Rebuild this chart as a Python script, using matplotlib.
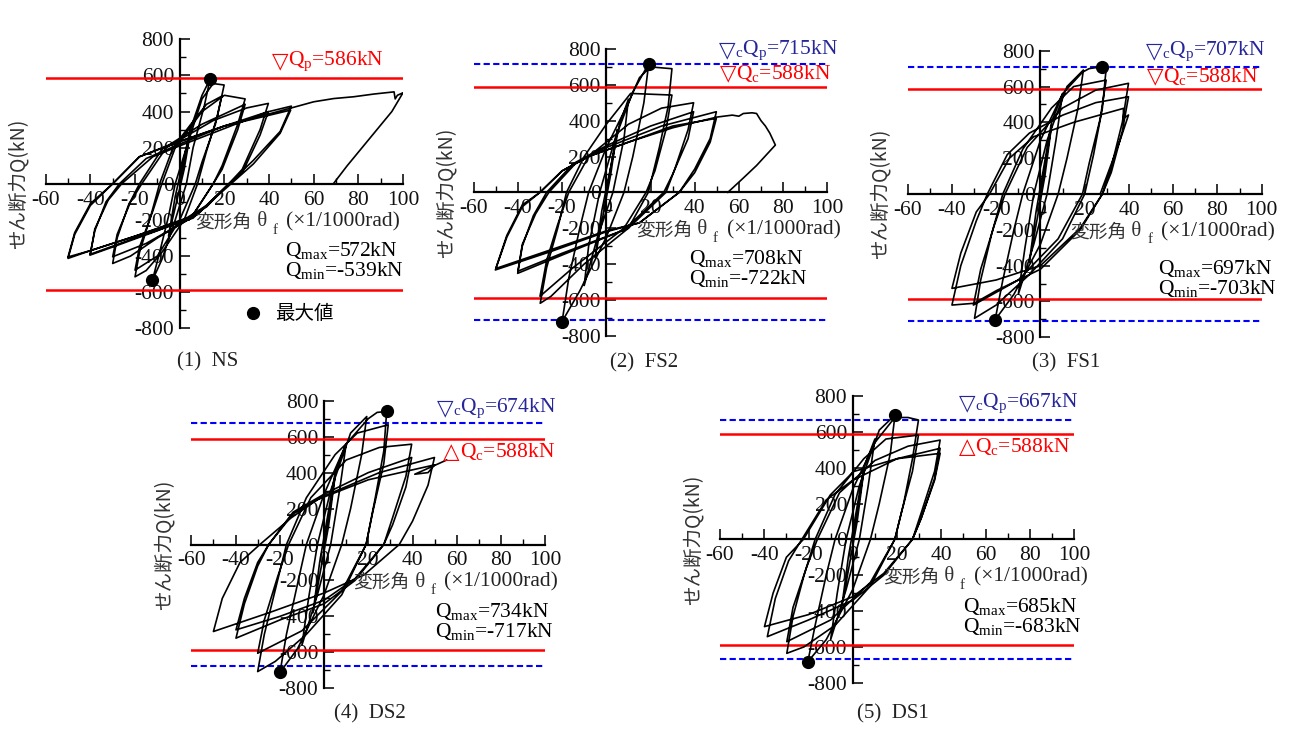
import numpy as np
import matplotlib.pyplot as plt
from matplotlib.ticker import MultipleLocator

plt.rcParams['font.family'] = ['Liberation Serif', 'DejaVu Sans']
plt.rcParams['mathtext.fontset'] = 'custom'
plt.rcParams['mathtext.rm'] = 'Liberation Serif'
plt.rcParams['mathtext.it'] = 'Liberation Serif:italic'
plt.rcParams['mathtext.bf'] = 'Liberation Serif:bold'
plt.rcParams['axes.unicode_minus'] = False

CJK = ['Noto Sans CJK JP', 'DejaVu Sans']
RED = '#ff0000'
BLUE = '#0000ff'
NAVY = '#262699'

# hysteresis paths: (theta_f [x1/1000 rad], Q [kN])
ns_path = [
    (0, 0), (5, 300), (2, 80), (-5, -290), (-2, -70), (5, 310),
    (10, 490), (13.6, 580), (11, 430), (6, 200), (3, 0), (-2, -200), (-8, -420), (-12.2, -534),
    (-9, -380), (-5, -180), (-2, 0), (3, 200), (10, 470), (15, 555), (19.9, 547),
    (17, 380), (12, 180), (8, 0), (2, -200), (-8, -380), (-15, -480), (-20, -515),
    (-18, -380), (-13, -180), (-9, 0), (-3, 200), (5, 330), (12, 440), (18.8, 485),
    (16, 330), (10, 120), (7, 0), (0, -200), (-10, -400), (-20, -478),
    (-18, -350), (-12, -150), (-8, 0), (-2, 200), (10, 400), (20, 490), (29.3, 470),
    (26, 330), (19, 100), (15, 0), (5, -190), (-10, -300), (-22, -400), (-30, -441),
    (-28, -300), (-23, -120), (-18, 0), (-8, 190), (10, 330), (29.3, 440),
    (26, 300), (19, 80), (15, 0), (5, -190), (-15, -330), (-30, -404),
    (-28, -280), (-22, -100), (-17, 0), (-6, 200), (15, 350), (30, 420), (39.7, 445),
    (36, 300), (28, 80), (22, 0), (8, -170), (-10, -260), (-30, -350), (-40.2, -395),
    (-38, -260), (-33, -100), (-27, 0), (-15, 140), (0, 220), (20, 320), (39.7, 400),
    (36, 270), (28, 60), (22, 0), (6, -190), (-20, -300), (-40, -390),
    (-38, -250), (-32, -90), (-26, 0), (-12, 150), (0, 210), (25, 330), (40, 400), (50, 430),
    (45, 290), (33, 130), (22, 0), (12, -128), (3, -195), (-20, -290), (-40, -370), (-50, -413),
    (-47, -280), (-40, -120), (-30, 0), (-18, 150), (-3, 223), (20, 320), (49.7, 408),
    (45, 280), (33, 110), (23, 0), (12, -120), (3, -190), (-20, -290), (-40, -370), (-50, -405),
    (-47, -270), (-40, -110), (-30, 0), (-18, 150), (-3, 220), (20, 320), (50, 420),
    (60, 454), (69, 472), (78, 482), (87, 497), (96, 509), (96.5, 470), (97.5, 490), (100, 504),
    (95, 400), (85, 250), (75, 100), (68.8, 0),
]

fs2_path = [
    (0, 0), (5, 350), (2, 100), (-5, -360), (-2, -100), (6, 380),
    (10, 520), (8, 300), (3, 0), (-4, -250), (-10, -520), (-8, -300), (-3, 0), (4, 300),
    (12, 560), (19.2, 719), (17, 500), (12, 200), (8, 0), (0, -250), (-12, -550), (-20, -721),
    (-17, -480), (-12, -200), (-8, 0), (0, 250), (10, 500), (15, 640), (20, 700), (29.7, 690),
    (28, 480), (24, 250), (19, 0), (10, -200), (-10, -400), (-25, -580), (-29.9, -619),
    (-27, -420), (-22, -200), (-18, 0), (-10, 200), (0, 380), (11, 552), (29.7, 543),
    (27, 350), (22, 120), (18, 0), (8, -200), (-15, -420), (-30, -580),
    (-27, -380), (-22, -180), (-17, 0), (-8, 200), (10, 380), (25, 470), (39.5, 500),
    (37, 350), (31, 130), (27, 0), (10, -200), (-20, -350), (-40.1, -452),
    (-38, -300), (-33, -130), (-27, 0), (-15, 160), (0, 260), (20, 370), (39.5, 450),
    (37, 300), (30, 100), (26, 0), (8, -210), (-20, -340), (-40, -440),
    (-38, -290), (-32, -120), (-26, 0), (-14, 160), (0, 250), (25, 370), (49.8, 450),
    (47, 300), (40, 130), (33, 0), (15, -170), (0, -220), (-25, -330), (-50.2, -433),
    (-45, -250), (-38, -80), (-30, 0), (-20, 120), (-8, 200), (10, 280), (30, 370), (49.8, 413),
    (47, 280), (40, 110), (33, 0), (15, -170), (0, -215), (-25, -320), (-50, -425),
    (-45, -240), (-38, -70), (-30, 0), (-20, 120), (-8, 200), (10, 280), (30, 360), (50, 420),
    (57, 431), (60, 425), (62, 440), (66, 444), (68, 440), (70, 400), (72, 370), (74, 330), (76.5, 264),
    (68, 150), (62, 80), (55, 0),
]

fs1_path = [
    (0, 0), (5, 380), (2, 100), (-5, -380), (-2, -100), (5, 400),
    (10, 560), (7, 300), (3, 0), (-3, -280), (-10, -560), (-7, -300), (-3, 0), (3, 300),
    (12, 600), (19.4, 692), (17, 480), (12, 200), (8, 0), (0, -280), (-12, -560), (-20.5, -703),
    (-17, -480), (-12, -200), (-8, 0), (0, 300), (10, 560), (19, 680), (22, 700), (28, 711), (29.7, 700),
    (28, 480), (24, 220), (20, 0), (10, -250), (-5, -450), (-20, -620), (-29.8, -694),
    (-27, -480), (-22, -220), (-17, 0), (-8, 250), (5, 480), (15, 600), (29.7, 636),
    (27, 420), (22, 170), (19, 0), (8, -250), (-10, -480), (-30.3, -620),
    (-27, -420), (-21, -180), (-16, 0), (-6, 260), (10, 480), (25, 580), (39.8, 618),
    (37, 400), (32, 150), (28, 0), (18, -200), (0, -420), (-20, -540), (-30, -610), (-40, -620),
    (-36, -400), (-29, -150), (-24, 0), (-15, 220), (-5, 340), (10, 440), (25, 510), (39.8, 543),
    (37, 350), (32, 120), (28, 0), (18, -190), (0, -400), (-20, -480), (-40, -527),
    (-36, -330), (-29, -100), (-23, 0), (-14, 200), (-3, 320), (15, 400), (37.5, 478),
    (37.5, 422), (39.8, 441), (36, 300), (30, 100), (27, 0),
]

ds2_path = [
    (0, 0), (5, 380), (2, 100), (-5, -380), (-2, -100), (5, 400),
    (10, 560), (7, 300), (3, 0), (-3, -280), (-10, -560), (-7, -300), (-3, 0), (3, 300),
    (12, 620), (19.3, 712), (17, 500), (12, 200), (8, 0), (0, -280), (-12, -580), (-19.9, -711),
    (-17, -500), (-12, -220), (-8, 0), (0, 280), (10, 560), (20, 700), (24, 735), (28.3, 740),
    (27, 520), (23, 250), (19, 0), (8, -280), (-8, -500), (-22, -650), (-30, -707),
    (-27, -500), (-22, -250), (-17, 0), (-8, 260), (5, 500), (15, 620), (29, 666),
    (27, 450), (22, 180), (19, 0), (8, -260), (-10, -480), (-30, -605),
    (-27, -420), (-21, -180), (-16, 0), (-6, 260), (10, 470), (25, 540), (39.6, 558),
    (37, 380), (31, 150), (27, 0), (14, -200), (0, -330), (-20, -420), (-39.8, -521),
    (-36, -330), (-30, -120), (-25, 0), (-14, 180), (0, 280), (20, 400), (39.6, 484),
    (37, 320), (31, 110), (27, 0), (14, -190), (0, -310), (-20, -400), (-39.8, -475),
    (-36, -300), (-30, -100), (-25, 0), (-14, 170), (0, 270), (25, 400), (49.9, 484),
    (47, 330), (40, 130), (34, 0), (18, -170), (0, -270), (-25, -380), (-50, -484),
    (-46, -300), (-38, -100), (-29, 0), (-15, 147), (-3, 250), (20, 360), (50, 443),
    (47, 400), (41, 391), (50, 440), (55.4, 470),
]

ds1_path = [
    (0, 0), (5, 380), (2, 100), (-5, -380), (-2, -100), (5, 400),
    (10, 560), (7, 300), (3, 0), (-3, -280), (-10, -560), (-7, -300), (-3, 0), (3, 300),
    (12, 610), (19.1, 694), (17, 480), (12, 200), (8, 0), (0, -280), (-12, -560), (-20.3, -683),
    (-17, -480), (-12, -200), (-8, 0), (0, 280), (10, 540), (19, 680), (25, 680), (29.7, 666),
    (27, 450), (23, 200), (19, 0), (8, -260), (-8, -480), (-22, -600), (-29.8, -636),
    (-27, -430), (-22, -200), (-17, 0), (-8, 250), (5, 450), (15, 560), (29.7, 582),
    (27, 380), (22, 150), (19, 0), (8, -240), (-10, -450), (-29.8, -571),
    (-27, -380), (-21, -160), (-16, 0), (-6, 260), (10, 440), (25, 520), (39.5, 554),
    (37, 380), (31, 150), (27, 0), (14, -200), (0, -340), (-20, -450), (-38.6, -543),
    (-35, -330), (-29, -120), (-23, 0), (-12, 220), (0, 330), (20, 450), (39.5, 508),
    (37, 340), (31, 120), (27, 0), (14, -190), (0, -320), (-20, -420), (-39.9, -487),
    (-36, -300), (-30, -100), (-22.3, 0), (-10.2, 247), (0.3, 378), (20, 450), (39.5, 480),
    (37, 330), (31, 120), (27, 0),
]

paths = [ns_path, fs2_path, fs1_path, ds2_path, ds1_path]
captions = ['(1)  NS', '(2)  FS2', '(3)  FS1', '(4)  DS2', '(5)  DS1']
# maximum / minimum points (black dots)
peak_pts = [[(13.6, 580), (-12.2, -534)],
            [(19.2, 719), (-20, -721)],
            [(28, 711), (-20.5, -703)],
            [(28.3, 740), (-19.9, -711)],
            [(19.1, 694), (-20.3, -683)]]
qmax = [572, 708, 697, 734, 685]
qmin = [-539, -722, -703, -717, -683]
qc_red = [586, 588, 588, 588, 588]        # red solid lines
cqp_blue = [None, 715, 707, 674, 667]     # blue dashed lines
red_sym = ['▽', '▽', '▽', '△', '△']
red_txt = ['Q$_{\\rm p}$', 'Q$_{\\rm c}$', 'Q$_{\\rm c}$', 'Q$_{\\rm c}$', 'Q$_{\\rm c}$']

# layout (pixel boxes of each axes: left, top, right, bottom) and label anchors
W, H = 1294, 729
boxes = [(45.7, 39.3, 403.0, 328.3),
         (473.7, 49.0, 827.3, 335.7),
         (907.7, 50.7, 1261.7, 337.3),
         (191.3, 400.7, 545.3, 688.3),
         (720.0, 396.0, 1074.0, 682.7)]
cap_xy = [(208, 362), (644, 363), (1066, 363), (370, 714), (893, 714)]
red_lab = [(41.2, 680), (51.3, 663), (48, 655), (53.9, 517), (47.8, 517)]
blue_lab = [None, (50.8, 794), (47.7, 795), (50.9, 758), (47.8, 759)]
q_lab = [(47.1, -367), (37.3, -368), (53, -415), (50.2, -373), (50, -376)]
xlab_x = [7, 13.3, 13.4, 13.3, 13.6]


def sym_label(ax, x, y, sym, txt, color):
    t = ax.text(x, y, sym, color=color, fontsize=15.5, family='DejaVu Sans',
                ha='left', va='center', zorder=5)
    ax.annotate(txt, xy=(1, 0.5), xycoords=t, ha='left', va='center',
                color=color, fontsize=15.5, zorder=5)


fig = plt.figure(figsize=(W / 100, H / 100), dpi=100)

for i in range(5):
    l, t, r, b = boxes[i]
    ax = fig.add_axes([l / W, 1 - b / H, (r - l) / W, (b - t) / H])
    ax.set_xlim(-60, 100)
    ax.set_ylim(-800, 800)
    for s in ['top', 'right']:
        ax.spines[s].set_visible(False)
    ax.spines['left'].set_position('zero')
    ax.spines['bottom'].set_position('zero')
    ax.spines['left'].set_linewidth(1.6)
    ax.spines['bottom'].set_linewidth(1.6)
    ax.patch.set_visible(False)
    ax.xaxis.set_major_locator(MultipleLocator(20))
    ax.xaxis.set_minor_locator(MultipleLocator(10))
    ax.yaxis.set_major_locator(MultipleLocator(200))
    ax.yaxis.set_minor_locator(MultipleLocator(100))
    ax.tick_params(which='major', direction='in', length=7, width=1.2,
                   labelsize=15.5, colors='#111111')
    ax.tick_params(which='minor', direction='in', length=4, width=1.0)
    ax.tick_params(axis='x', pad=5)
    ax.tick_params(axis='y', pad=4)

    # reference lines
    ax.plot([-60, 100], [qc_red[i], qc_red[i]], color=RED, lw=1.8, zorder=3)
    ax.plot([-60, 100], [-qc_red[i], -qc_red[i]], color=RED, lw=1.8, zorder=3)
    if cqp_blue[i] is not None:
        for v in (cqp_blue[i], -cqp_blue[i]):
            ax.plot([-60, 100], [v, v], color=BLUE, lw=1.5, dashes=(3, 1.6), zorder=3)

    # hysteresis curve
    p = np.array(paths[i])
    ax.plot(p[:, 0], p[:, 1], color='black', lw=1.2, zorder=4, solid_joinstyle='round')
    pk = np.array(peak_pts[i])
    ax.plot(pk[:, 0], pk[:, 1], 'o', color='black', ms=8.5, zorder=6)

    # labels
    rx, ry = red_lab[i]
    sym_label(ax, rx, ry, red_sym[i], red_txt[i] + '=%dkN' % qc_red[i], RED)
    if blue_lab[i] is not None:
        bx, by = blue_lab[i]
        sym_label(ax, bx, by, '▽', '$_{\\rm c}$Q$_{\\rm p}$=%dkN' % cqp_blue[i], NAVY)

    qx, qy = q_lab[i]
    ax.text(qx, qy, 'Q$_{\\rm max}$=%dkN' % qmax[i], fontsize=15.5, ha='left', va='center', zorder=5)
    ax.text(qx, qy - 111, 'Q$_{\\rm min}$=%dkN' % qmin[i], fontsize=15.5, ha='left', va='center', zorder=5)

    # axis labels
    ax.text(-0.077, 0.5, 'せん断力Q(kN)', transform=ax.transAxes, rotation=90,
            ha='center', va='center', family=CJK, fontsize=14, color='#333333')
    t1 = ax.text(xlab_x[i], -210, '変形角', family=CJK, fontsize=13.5,
                 color='#333333', ha='left', va='center', zorder=5)
    t2 = ax.annotate(' θ', xy=(1, 0.5), xycoords=t1, ha='left', va='center',
                     fontsize=15, color='#333333', zorder=5)
    ax.annotate('f', xy=(1, 0.5), xycoords=t2, xytext=(4, -6), textcoords='offset points',
                ha='left', va='center', fontsize=11, color='#333333', zorder=5)
    ax.annotate('(×1/1000rad)', xy=(1, 0.5), xycoords=t2, xytext=(14, 0),
                textcoords='offset points', ha='left', va='center',
                fontsize=15.5, color='#222222', zorder=5)

    if i == 0:
        ax.plot([32.8], [-716], 'o', color='black', ms=8.5, clip_on=False)
        ax.text(42.7, -716, '最大値', family=CJK, fontsize=14, ha='left', va='center')

    cx, cy = cap_xy[i]
    fig.text(cx / W, 1 - cy / H, captions[i], ha='center', va='center',
             fontsize=15, color='#222222')

fig.savefig('out.png', dpi=100)
